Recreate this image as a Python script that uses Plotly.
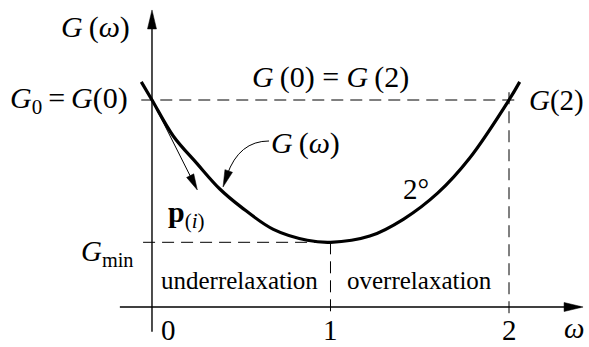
import math
import plotly.graph_objects as go

# ---- data ----
omega = [-0.06, 0.0, 0.12, 0.25, 0.38, 0.5, 0.68, 0.87, 1.0, 1.22, 1.41, 1.6, 1.78, 2.0, 2.06]
G_vals = [4.35, 4.0, 3.3, 2.78, 2.28, 1.93, 1.5, 1.29, 1.25, 1.37, 1.7, 2.2, 2.88, 4.0, 4.35]
G0 = 4.0
Gmin = 1.25
omega_ticks = [0, 1, 2]
tick_labels = ["0", "1", "2"]

FONT = "Liberation Serif"
W, H = 589, 347
XR = [-0.8515, 2.4482]
YR = [-0.7730, 5.9324]
TS = "\u2009"  # thin space

fig = go.Figure()
fig.add_trace(go.Scatter(x=omega, y=G_vals, mode="lines",
                         line=dict(color="black", width=3.2, shape="spline", smoothing=1.0),
                         hoverinfo="skip", showlegend=False))

shapes = []
def line(x0, y0, x1, y1, width=1.0, dash="solid"):
    shapes.append(dict(type="line", xref="x", yref="y", x0=x0, y0=y0, x1=x1, y1=y1,
                       line=dict(color="black", width=width, dash=dash)))

def head(xa, ya, dx, dy, length=18, half=4.5):
    # arrowhead at (xa, ya); (dx, dy) screen direction of travel (y down)
    n = math.hypot(dx, dy)
    ux, uy = dx / n, dy / n
    bx, by = -ux * length, -uy * length
    px, py = -uy * half, ux * half
    p1 = (bx + px, by + py)
    p2 = (bx - px, by - py)
    path = "M0,0 L%.2f,%.2f L%.2f,%.2f Z" % (p1[0], -p1[1], p2[0], -p2[1])
    shapes.append(dict(type="path", xref="x", yref="y", xsizemode="pixel", ysizemode="pixel",
                       xanchor=xa, yanchor=ya, path=path, fillcolor="black",
                       line=dict(color="black", width=0.5)))

DASH = "12px,7px"
# axes
line(-0.18, 0, 2.40, 0, width=1.4)
head(2.415, 0, 1, 0, length=19, half=4.5)
line(0, -0.48, 0, 5.6, width=1.4)
head(0, 5.74, 0, -1, length=19, half=4.5)
# dashed guides
line(-0.06, G0, 2.06, G0, dash=DASH)
line(-0.05, Gmin, 1.0, Gmin, dash=DASH)
line(1.0, Gmin, 1.0, -0.15, dash=DASH)
line(2.0, 4.15, 2.0, -0.12, dash=DASH)
# p(i) arrow
line(0, G0, 0.245, 2.32, width=1.0)
head(0.254, 2.262, 45, 90, length=16, half=4)
# curved arrow to curve label
shapes.append(dict(type="path", xref="x", yref="y", xsizemode="pixel", ysizemode="pixel",
                   xanchor=0.398, yanchor=2.319, path="M46,46 Q16,46 4,12",
                   line=dict(color="black", width=1.0)))
head(0.398, 2.319, -6, 17, length=17, half=4)

anns = []
def txt(x, y, s, size, xanchor="center", yanchor="middle"):
    anns.append(dict(x=x, y=y, xref="x", yref="y", text=s, showarrow=False,
                     xanchor=xanchor, yanchor=yanchor, borderpad=0,
                     font=dict(family=FONT, size=size, color="black")))

GW = "<i>G</i>" + TS + "(<i>ω</i>)"
txt(-0.314, 5.41, GW, 30)
txt(-0.13, G0, "<i>G</i><sub>0</sub>" + TS + "=" + TS + "<i>G</i>(0)", 30, xanchor="right")
txt(1.0, 4.45, "<i>G</i>" + TS + "(0) = <i>G</i>" + TS + "(2)", 30)
txt(2.105, G0, "<i>G</i>(2)", 29, xanchor="left")
txt(0.66, 3.17, GW, 30, xanchor="left")
txt(0.085, 1.8, "<b>p</b><sub>(<i>i</i>)</sub>", 30, xanchor="left")
txt(1.48, 2.28, "2°", 29)
txt(-0.095, 1.05, "<i>G</i><sub>min</sub>", 29, xanchor="right")
txt(0.493, 0.52, "underrelaxation", 25)
txt(1.496, 0.52, "overrelaxation", 25)
for w, lab in zip(omega_ticks, tick_labels):
    txt(w + (0.09 if w == 0 else 0.0), -0.45, lab, 29)
txt(2.364, -0.40, "<i>ω</i>", 29)

fig.update_layout(width=W, height=H, margin=dict(l=0, r=0, t=0, b=0),
                  paper_bgcolor="white", plot_bgcolor="white",
                  xaxis=dict(range=XR, visible=False, fixedrange=True),
                  yaxis=dict(range=YR, visible=False, fixedrange=True),
                  shapes=shapes, annotations=anns, showlegend=False)
fig.write_html("out.html", config={"displayModeBar": False},
               post_script="document.body.style.margin='0';")
